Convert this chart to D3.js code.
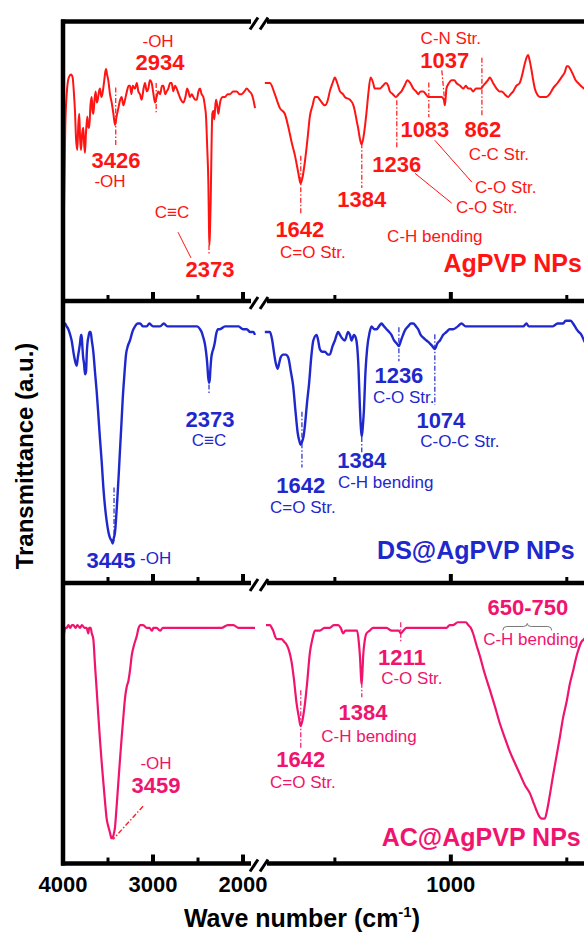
<!DOCTYPE html>
<html>
<head>
<meta charset="utf-8">
<script src="https://cdn.jsdelivr.net/npm/d3@7/dist/d3.min.js"></script>
<style>
  body { margin: 0; background: #fff; }
  text { font-family: "Liberation Sans", Arial, sans-serif; }
</style>
</head>
<body>
<svg id="ftir-viz"></svg>
<script>
// FTIR spectra, [wave number (cm-1), transmittance (a.u., 0-100 inside each panel)]
let agpvpSpectrum = [
  [3998, 8], [3990, 30], [3975, 62], [3959, 74], [3935, 80], [3910, 81], [3893, 80], [3878, 74],
  [3867, 68], [3855, 58], [3841, 54], [3830, 63], [3819, 67], [3810, 58], [3800, 54], [3787, 60],
  [3774, 62], [3765, 56], [3756, 53], [3745, 60], [3730, 66], [3718, 62], [3708, 62], [3695, 70],
  [3681, 73], [3672, 68], [3663, 67], [3650, 72], [3637, 75], [3625, 71], [3614, 72], [3600, 75],
  [3589, 76], [3575, 73], [3563, 74], [3545, 78], [3530, 82], [3522, 83], [3510, 81], [3497, 79],
  [3478, 74], [3459, 71], [3440, 67], [3422, 63], [3405, 66], [3385, 69], [3365, 72], [3348, 73],
  [3330, 70], [3311, 72], [3290, 75], [3270, 77], [3256, 77], [3240, 74], [3225, 77], [3200, 76],
  [3180, 78], [3163, 75], [3145, 74], [3126, 72], [3105, 76], [3089, 78], [3070, 75], [3052, 76],
  [3035, 79], [3015, 78], [2995, 74], [2978, 71], [2960, 73], [2941, 75], [2920, 74], [2900, 77],
  [2885, 77], [2865, 74], [2848, 75], [2830, 76], [2810, 78], [2793, 78], [2775, 75], [2755, 77],
  [2737, 76], [2715, 74], [2690, 72], [2663, 71], [2640, 73], [2620, 76], [2607, 75], [2590, 73],
  [2570, 74], [2552, 73], [2530, 72], [2515, 72], [2495, 75], [2478, 76], [2460, 74], [2441, 73],
  [2425, 70], [2411, 66], [2398, 55], [2385, 42], [2378, 26], [2374, 20], [2368, 24], [2359, 36],
  [2350, 55], [2341, 67], [2330, 68], [2319, 65], [2310, 69], [2300, 72], [2287, 70], [2274, 67],
  [2260, 70], [2248, 72], [2225, 73], [2200, 73], [2170, 74], [2144, 74], [2110, 75], [2070, 75],
  [2040, 74], [2015, 74], [1985, 75], [1959, 76], [1930, 75], [1904, 74], [1885, 72], [1867, 69],
  [1802, 78], [1780, 78], [1759, 74], [1737, 69], [1716, 67], [1700, 62], [1687, 57], [1672, 52],
  [1658, 46], [1648, 42], [1640, 44], [1629, 50], [1618, 58], [1608, 66], [1596, 70], [1586, 73],
  [1575, 73], [1565, 72], [1543, 70], [1530, 72], [1522, 75], [1510, 78], [1500, 80], [1490, 78],
  [1478, 75], [1465, 74], [1457, 73], [1435, 72], [1420, 70], [1414, 68], [1405, 64], [1400, 62],
  [1392, 58], [1385, 56], [1378, 58], [1371, 62], [1363, 68], [1356, 74], [1346, 80], [1335, 78],
  [1328, 76], [1306, 76], [1293, 77], [1280, 78], [1270, 77], [1263, 75], [1250, 74], [1237, 73],
  [1225, 74], [1213, 75], [1200, 77], [1187, 79], [1175, 78], [1162, 76], [1150, 75], [1141, 74],
  [1130, 75], [1119, 75], [1108, 74], [1098, 73], [1076, 73], [1055, 73], [1040, 73], [1030, 72],
  [1026, 70], [1022, 73], [1019, 76], [1008, 78], [997, 79], [985, 79], [976, 78], [960, 77],
  [947, 76], [935, 77], [925, 76], [915, 76], [904, 75], [892, 76], [882, 76], [870, 76],
  [861, 77], [850, 78], [840, 79], [832, 80], [818, 78], [803, 76], [790, 75], [781, 75],
  [768, 74], [753, 73], [742, 74], [731, 75], [718, 77], [703, 78], [692, 81], [681, 85],
  [674, 87], [667, 88], [660, 86], [653, 83], [645, 79], [638, 76], [628, 74], [616, 73],
  [600, 73], [588, 73], [574, 74], [560, 76], [540, 78], [523, 80], [508, 82], [500, 84],
  [494, 84], [485, 83], [473, 81], [462, 79], [451, 78], [440, 77], [426, 76], [410, 75]
];

let dsSpectrum = [
  [3998, 92], [3978, 92], [3960, 91], [3941, 90], [3920, 88], [3904, 86], [3880, 81], [3860, 78],
  [3848, 77], [3835, 80], [3820, 83], [3811, 85], [3800, 88], [3793, 88], [3785, 84], [3776, 80],
  [3767, 78], [3755, 74], [3744, 75], [3735, 82], [3725, 86], [3719, 87], [3705, 89], [3693, 89],
  [3680, 86], [3663, 82], [3645, 75], [3626, 68], [3608, 60], [3589, 51], [3570, 43], [3552, 34],
  [3533, 27], [3515, 22], [3495, 18], [3478, 16], [3460, 15], [3448, 14], [3435, 16], [3422, 18],
  [3410, 23], [3396, 30], [3380, 39], [3367, 47], [3350, 57], [3337, 65], [3320, 73], [3300, 81],
  [3280, 84], [3256, 86], [3230, 89], [3200, 91], [3170, 92], [3144, 92], [3110, 91], [3070, 91],
  [3040, 92], [3000, 91], [2960, 91], [2922, 91], [2880, 92], [2840, 91], [2800, 91], [2737, 91],
  [2680, 91], [2620, 91], [2560, 91], [2510, 91], [2478, 90], [2460, 89], [2441, 87], [2425, 85],
  [2411, 82], [2398, 78], [2387, 73], [2378, 71], [2370, 72], [2362, 76], [2352, 80], [2340, 82],
  [2330, 83], [2315, 85], [2300, 88], [2280, 90], [2256, 90], [2200, 91], [2150, 91], [2107, 91],
  [2050, 91], [2000, 90], [1959, 90], [1920, 89], [1885, 89], [1867, 88],
  [1802, 89], [1780, 89], [1770, 86], [1763, 82], [1755, 78], [1747, 76], [1740, 78], [1734, 80],
  [1723, 81], [1712, 81], [1701, 80], [1690, 75], [1680, 70], [1670, 61], [1660, 53], [1652, 50],
  [1648, 49], [1642, 50], [1635, 52], [1629, 56], [1620, 64], [1611, 71], [1602, 80], [1593, 86],
  [1579, 88], [1572, 86], [1565, 83], [1554, 82], [1543, 82], [1530, 81], [1522, 81], [1510, 84],
  [1500, 86], [1486, 89], [1478, 88], [1471, 87], [1457, 86], [1443, 89], [1435, 88], [1428, 86],
  [1418, 88], [1410, 87], [1404, 84], [1398, 76], [1392, 62], [1387, 54], [1384, 52], [1380, 55],
  [1375, 61], [1368, 75], [1361, 83], [1350, 89], [1342, 91], [1330, 90], [1320, 90], [1310, 91],
  [1299, 92], [1288, 91], [1277, 90], [1266, 89], [1256, 88], [1245, 86], [1234, 85], [1224, 84],
  [1215, 86], [1206, 88], [1195, 90], [1184, 91], [1172, 92], [1162, 92], [1150, 91], [1141, 90],
  [1130, 88], [1119, 87], [1105, 86], [1091, 85], [1080, 84], [1069, 83], [1058, 85], [1047, 86],
  [1033, 88], [1019, 89], [1005, 90], [990, 90], [970, 91], [954, 92], [936, 91], [918, 91],
  [875, 91], [840, 91], [803, 91], [760, 91], [731, 91], [703, 91], [688, 91], [674, 92],
  [664, 91], [653, 91], [630, 91], [602, 91], [580, 91], [560, 91], [540, 92], [516, 92],
  [505, 93], [494, 93], [484, 93], [473, 92], [465, 91], [458, 90], [448, 89], [437, 88],
  [426, 86], [410, 84]
];

let acSpectrum = [
  [3998, 81], [3989, 82], [3975, 84], [3959, 84], [3940, 85], [3920, 84], [3900, 85], [3885, 85],
  [3860, 84], [3840, 85], [3811, 84], [3790, 85], [3760, 84], [3737, 84], [3728, 83], [3719, 82],
  [3710, 84], [3700, 84], [3693, 84], [3680, 82], [3663, 80], [3645, 71], [3626, 62], [3608, 53],
  [3589, 44], [3570, 36], [3552, 29], [3533, 22], [3515, 16], [3495, 13], [3478, 11], [3462, 9],
  [3452, 9], [3440, 10], [3422, 13], [3405, 20], [3385, 29], [3367, 37], [3348, 45], [3330, 52],
  [3311, 59], [3292, 63], [3274, 65], [3255, 69], [3237, 74], [3210, 78], [3181, 81], [3160, 84],
  [3144, 85], [3110, 85], [3070, 84], [3040, 84], [3010, 83], [2996, 84], [2960, 84], [2922, 83],
  [2890, 84], [2848, 84], [2800, 84], [2740, 84], [2680, 84], [2626, 84], [2560, 84], [2500, 84],
  [2440, 84], [2367, 84], [2300, 84], [2240, 84], [2170, 85], [2107, 85], [2050, 84], [2000, 84],
  [1940, 84], [1885, 84], [1867, 84],
  [1797, 85], [1780, 85], [1772, 84], [1766, 83], [1758, 81], [1751, 80], [1740, 80], [1730, 80],
  [1718, 79], [1708, 78], [1698, 76], [1687, 72], [1677, 66], [1665, 57], [1655, 52], [1648, 49],
  [1640, 51], [1629, 57], [1620, 64], [1608, 75], [1597, 80], [1586, 83], [1575, 83], [1565, 83],
  [1545, 84], [1522, 84], [1505, 85], [1486, 85], [1475, 84], [1464, 82], [1455, 83], [1440, 83],
  [1428, 83], [1415, 83], [1404, 83], [1397, 79], [1392, 74], [1387, 66], [1385, 64], [1382, 67],
  [1378, 74], [1372, 79], [1364, 82], [1350, 83], [1335, 84], [1310, 84], [1290, 84], [1277, 84],
  [1255, 83], [1234, 83], [1224, 83], [1216, 82], [1205, 83], [1191, 84], [1165, 84], [1134, 84],
  [1105, 84], [1076, 84], [1048, 84], [1019, 84], [1005, 85], [990, 85], [970, 86], [947, 86],
  [935, 86], [925, 85], [914, 84], [904, 82], [890, 78], [875, 74], [855, 68], [832, 62],
  [810, 56], [789, 50], [768, 45], [746, 40], [725, 36], [703, 32], [681, 28], [659, 25],
  [645, 22], [631, 19], [620, 17], [609, 16], [600, 16], [595, 16], [585, 19], [574, 24],
  [560, 31], [545, 38], [530, 45], [516, 52], [500, 58], [487, 64], [472, 69], [458, 74],
  [447, 77], [437, 79], [426, 80], [410, 82]
];

let sampleNames = ['AgPVP NPs', 'DS@AgPVP NPs', 'AC@AgPVP NPs'];
let spectra = [agpvpSpectrum, dsSpectrum, acSpectrum];

// Axis ticks
let majorTicks = [3000, 2000, 1000];
let minorTicks = [3500, 2500, 1500, 500];
let tickLabels = [4000, 3000, 2000, 1000];

// Peak labels: [panel, text, wave number, transmittance, kind, anchor]
let peakLabels = [
  [0, '-OH', 2944, 91, 't'], [0, '2934', 2922, 82.5, 'n'],
  [0, '3426', 3411, 47.5, 'n'], [0, '-OH', 3478, 40.7, 't'],
  [0, 'C\u2261C', 2789, 29.6, 't'], [0, '2373', 2367, 8.6, 'n'],
  [0, '1642', 1651, 22.9, 'n'], [0, 'C=O Str.', 1595, 15.4, 't'],
  [0, '1384', 1384, 33.6, 'n'], [0, '1236', 1233, 46, 'n'],
  [0, 'C-H bending', 1069, 21, 't'], [0, '1083', 1112, 58.6, 'n'],
  [0, '862', 862, 58.6, 'n'], [0, 'C-C Str.', 793, 50.4, 't'],
  [0, 'C-N Str.', 1000, 92, 't'], [0, '1037', 1026, 83.2, 'n'],
  [0, 'C-O Str.', 763, 38.6, 't'], [0, 'C-O Str.', 845, 31.4, 't'],
  [1, '2373', 2367, 55.3, 'n'], [1, 'C\u2261C', 2378, 48.6, 't'],
  [1, '3445', 3467, 5.4, 'n'], [1, '-OH', 3144, 6.8, 't', 'start'],
  [1, '1642', 1647, 32, 'n'], [1, 'C=O Str.', 1638, 25, 't'],
  [1, '1384', 1384, 40.7, 'n'], [1, 'C-H bending', 1487, 33.6, 't', 'start'],
  [1, '1236', 1224, 71, 'n'], [1, 'C-O Str.', 1203, 64, 't'],
  [1, '1074', 1043, 55, 'n'], [1, 'C-O-C Str.', 961, 48.2, 't'],
  [2, '-OH', 2967, 33.6, 't'], [2, '3459', 2967, 25, 'n'],
  [2, '1642', 1647, 34.3, 'n'], [2, 'C=O Str.', 1638, 26.8, 't'],
  [2, '1384', 1379, 51, 'n'], [2, 'C-H bending', 1353, 43.2, 't'],
  [2, '1211', 1211, 70.9, 'n'], [2, 'C-O Str.', 1168, 64.1, 't'],
  [2, '650-750', 668, 88.6, 'n'], [2, 'C-H bending', 655, 77.9, 't']
];

// Sample name positions: [wave number, transmittance]
let namePositions = [[435, 10.4], [466, 8.6], [440, 6.4]];

// Dash-dot peak markers: [panel, wn0, t0, wn1, t1]
let peakMarkers = [
  [0, 3414, 76.4, 3414, 55.7], [0, 2965, 78, 2965, 67.5], [0, 2378, 20, 2378, 16.4],
  [0, 1647, 52, 1647, 31.4], [0, 1384, 56.4, 1384, 40.4], [0, 1233, 71.8, 1233, 54.6],
  [0, 1095, 78.2, 1095, 65.7], [0, 866, 87, 866, 66.4], [0, 1039, 82.5, 1026, 71],
  [1, 2378, 70.4, 2378, 66.8], [1, 3433, 33.9, 3433, 15], [1, 1642, 60.7, 1642, 41],
  [1, 1384, 51.8, 1384, 46.4], [1, 1224, 90.7, 1224, 78.6], [1, 1069, 88.2, 1069, 63.2],
  [2, 1647, 61.8, 1647, 41], [2, 1384, 68.2, 1384, 59.3], [2, 1216, 86, 1216, 78.6]
];

// Thin leader lines: [panel, wn0, t0, wn1, t1]
let leaderLines = [
  [0, 2722, 24.6, 2578, 15.4], [0, 1069, 57.5, 909, 42.5], [0, 1155, 45.7, 996, 35]
];
let acOhPointer = [3111, 20.4, 3444, 8.6];
let acBrace = [776, 565, 84.5];

// Set up size and layout
let width = 584;
let height = 934;
let panelEdges = [21.5, 301, 583, 863.5];
let colors = ['#ff1414', '#1e28cc', '#f0146e'];
let curveWidths = [2, 2.4, 2.2];

let svg = d3.select('#ftir-viz')
    .attr('width', width)
    .attr('height', height);

// Broken x axis: two scales
let xLeft = d3.scaleLinear().domain([4000, 1867]).range([63, 255]);
let xRight = d3.scaleLinear().domain([1797, 400]).range([266, 590]);
let xPos = wn => wn > 1830 ? xLeft(wn) : xRight(wn);

let yScales = sampleNames.map((n, i) =>
    d3.scaleLinear().domain([0, 100]).range([panelEdges[i + 1], panelEdges[i]]));

let line = d3.line().curve(d3.curveMonotoneX);

// Spectra
spectra.forEach((spec, i) => {
    let y = yScales[i];
    let parts = [spec.filter(d => d[0] > 1830), spec.filter(d => d[0] <= 1830)];
    parts.forEach((part, j) => {
        let sx = j === 0 ? xLeft : xRight;
        svg.append('path')
            .attr('d', line.x(d => sx(d[0])).y(d => y(d[1]))(part))
            .attr('fill', 'none')
            .attr('stroke', colors[i])
            .attr('stroke-width', curveWidths[i])
            .attr('stroke-linejoin', 'round');
    });
});

// Frame lines with axis break
let frame = svg.append('g');
let breakGap = [251, 267];
panelEdges.forEach(yy => {
    frame.append('line').attr('x1', 61).attr('x2', breakGap[0]).attr('y1', yy).attr('y2', yy)
        .attr('stroke', '#000').attr('stroke-width', 4.5);
    frame.append('line').attr('x1', breakGap[1]).attr('x2', width + 10).attr('y1', yy).attr('y2', yy)
        .attr('stroke', '#000').attr('stroke-width', 4.5);
    [254, 264].forEach(cx => {
        frame.append('line')
            .attr('x1', cx - 4).attr('y1', yy + 8)
            .attr('x2', cx + 4).attr('y2', yy - 4)
            .attr('stroke', '#000').attr('stroke-width', 3);
    });
});
frame.append('line')
    .attr('x1', 63).attr('x2', 63)
    .attr('y1', panelEdges[0] - 2).attr('y2', panelEdges[3] + 2)
    .attr('stroke', '#000').attr('stroke-width', 4.5);

// Ticks at the bottom of each panel, pointing up
panelEdges.slice(1).forEach(yy => {
    majorTicks.forEach(t => {
        frame.append('line').attr('x1', xPos(t)).attr('x2', xPos(t))
            .attr('y1', yy).attr('y2', yy - 9)
            .attr('stroke', '#000').attr('stroke-width', 4);
    });
    minorTicks.forEach(t => {
        frame.append('line').attr('x1', xPos(t)).attr('x2', xPos(t))
            .attr('y1', yy).attr('y2', yy - 6)
            .attr('stroke', '#000').attr('stroke-width', 3);
    });
});

// Tick labels
svg.selectAll('text.tick-label')
    .data(tickLabels)
    .enter().append('text')
    .attr('class', 'tick-label')
    .attr('x', d => xPos(d))
    .attr('y', 892)
    .attr('text-anchor', 'middle')
    .attr('font-size', 22)
    .attr('font-weight', 'bold')
    .text(d => d);

// Axis titles
let xTitle = svg.append('text')
    .attr('x', 302).attr('y', 927)
    .attr('text-anchor', 'middle')
    .attr('font-size', 25)
    .attr('font-weight', 'bold');
xTitle.append('tspan').text('Wave number (cm');
xTitle.append('tspan').attr('dy', -10).attr('font-size', 15).text('-1');
xTitle.append('tspan').attr('dy', 10).text(')');

svg.append('text')
    .attr('transform', 'translate(33,456) rotate(-90)')
    .attr('text-anchor', 'middle')
    .attr('font-size', 24)
    .attr('font-weight', 'bold')
    .text('Transmittance (a.u.)');

// Peak markers
peakMarkers.forEach(m => {
    let y = yScales[m[0]];
    svg.append('line')
        .attr('x1', xPos(m[1])).attr('y1', y(m[2]))
        .attr('x2', xPos(m[3])).attr('y2', y(m[4]))
        .attr('stroke', colors[m[0]])
        .attr('stroke-width', 1.2)
        .attr('stroke-dasharray', '5,2,1.5,2');
});

leaderLines.forEach(m => {
    let y = yScales[m[0]];
    svg.append('line')
        .attr('x1', xPos(m[1])).attr('y1', y(m[2]))
        .attr('x2', xPos(m[3])).attr('y2', y(m[4]))
        .attr('stroke', colors[m[0]])
        .attr('stroke-width', 1);
});

svg.append('line')
    .attr('x1', xPos(acOhPointer[0])).attr('y1', yScales[2](acOhPointer[1]))
    .attr('x2', xPos(acOhPointer[2])).attr('y2', yScales[2](acOhPointer[3]))
    .attr('stroke', '#ff2020')
    .attr('stroke-width', 1.4)
    .attr('stroke-dasharray', '5,2,1.5,2');

// Brace over 650-750 band
let bx0 = xPos(acBrace[0]), bx1 = xPos(acBrace[1]), by = yScales[2](acBrace[2]);
let bm = (bx0 + bx1) / 2;
svg.append('path')
    .attr('d', `M${bx0},${by + 4} Q${bx0},${by} ${bx0 + 4},${by} L${bm - 4},${by} Q${bm},${by} ${bm},${by - 3} Q${bm},${by} ${bm + 4},${by} L${bx1 - 4},${by} Q${bx1},${by} ${bx1},${by + 4}`)
    .attr('fill', 'none')
    .attr('stroke', '#777')
    .attr('stroke-width', 1);

// Peak labels
peakLabels.forEach(l => {
    svg.append('text')
        .attr('x', xPos(l[2]))
        .attr('y', yScales[l[0]](l[3]))
        .attr('text-anchor', l[5] || 'middle')
        .attr('font-size', l[4] === 'n' ? 22 : 17)
        .attr('font-weight', l[4] === 'n' ? 'bold' : 'normal')
        .attr('fill', colors[l[0]])
        .text(l[1]);
});

// Sample names
sampleNames.forEach((name, i) => {
    svg.append('text')
        .attr('x', xPos(namePositions[i][0]))
        .attr('y', yScales[i](namePositions[i][1]))
        .attr('text-anchor', 'end')
        .attr('font-size', 25)
        .attr('font-weight', 'bold')
        .attr('fill', colors[i])
        .text(name);
});
</script>
</body>
</html>
